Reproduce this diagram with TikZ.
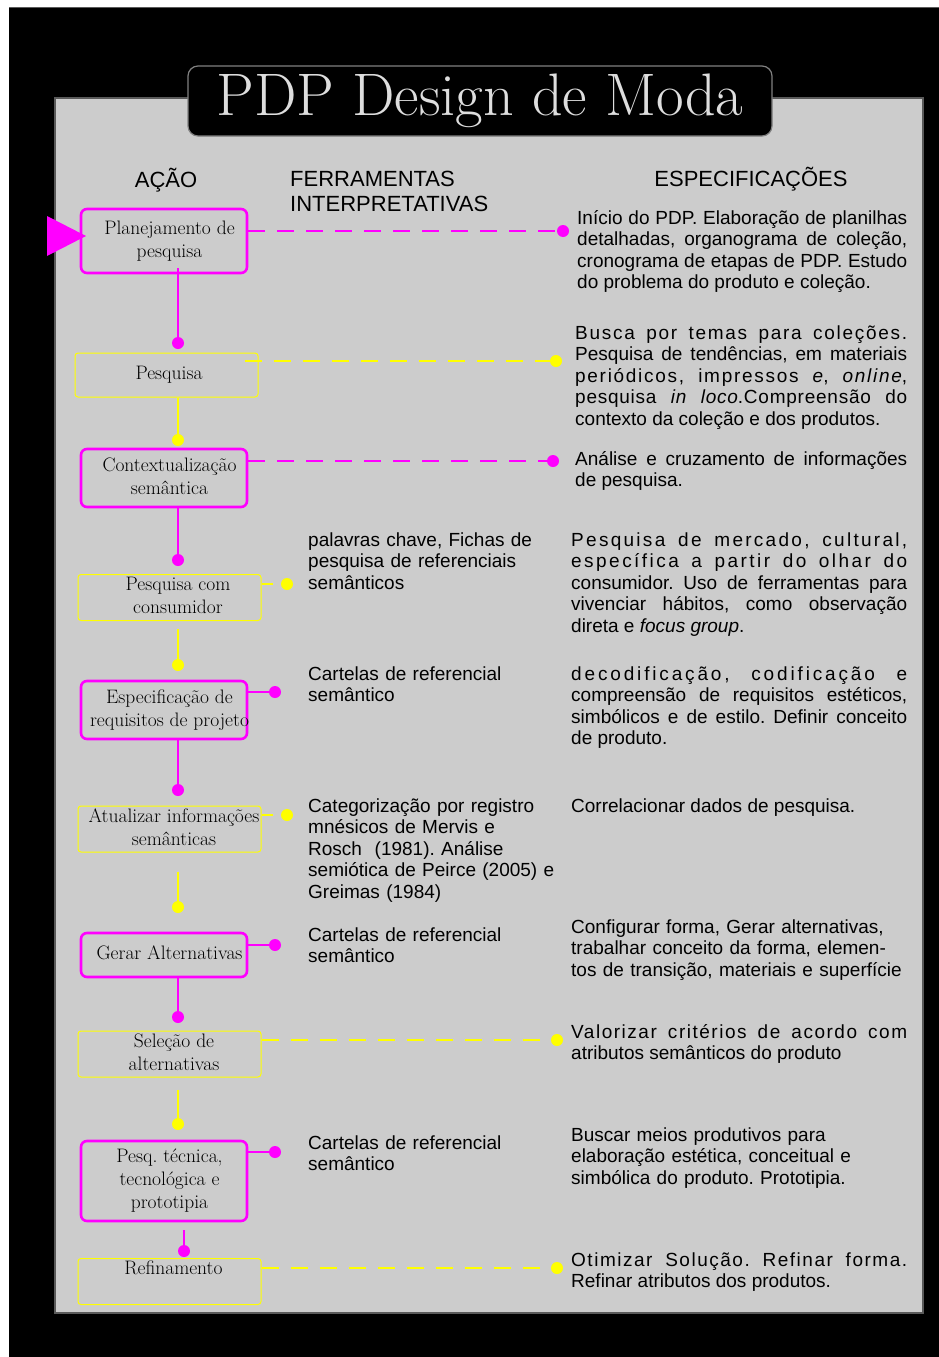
\documentclass[tikz,border=0pt]{standalone}
\usepackage{fontspec}
\usepackage{tikz}
\usetikzlibrary{positioning, arrows.meta}
\newfontfamily\arialfont{Liberation Sans}
\newfontfamily\titulofont{lmroman17-regular.otf}
\definecolor{rosa}{RGB}{255, 0, 255}
\definecolor{amarelo}{RGB}{255, 255, 0}
\definecolor{fundo}{RGB}{204, 204, 204}
\definecolor{contorno}{RGB}{90, 90, 90}
\definecolor{titulocor}{RGB}{222, 222, 222}
\newcommand{\espacado}[1]{\addfontfeature{LetterSpace=#1}}
\newcommand{\rotulo}[2]{\makebox[0pt]{\hspace*{#1}\begin{tabular}{@{}c@{}}#2\end{tabular}}}

\begin{document}
\frenchspacing
\begin{tikzpicture}[
    x=1pt, y=-1pt,
    acao/.style={draw=rosa, line width=2.6pt, rounded corners=6pt,
                 inner sep=0pt, font=\fontsize{19.5}{23}\selectfont},
    acaoy/.style={acao, draw=amarelo, line width=1pt, rounded corners=3pt},
    cabecalho/.style={inner sep=0pt, font=\arialfont\fontsize{22}{25}\selectfont},
    ferr/.style={anchor=base west, inner sep=0pt, text width=260pt, align=left,
                 font=\arialfont\fontsize{19}{21.6}\selectfont},
    espec/.style={ferr, text width=336pt, align=justify},
    ponto/.style={circle, fill=#1, minimum size=12pt, inner sep=0pt},
    liga/.style={draw=#1, line width=2.6pt},
    tracejado/.style={liga=#1, dash pattern=on 17pt off 12pt}
]

% --- Fundo e painel ---
\useasboundingbox[fill=white] (0,0) rectangle (939,1357);
\fill[black] (9,7) rectangle (939,1357);
\draw[contorno, line width=1pt] (9,7) -- (939,7);
\draw[fill=fundo, draw=contorno, line width=1.2pt] (55,98) rectangle (923,1313);

% --- Titulo ---
\node[fill=black, draw=gray, line width=1.2pt, rounded corners=10pt,
      minimum width=584pt, minimum height=70pt, inner sep=0pt,
      text=titulocor, font=\titulofont\fontsize{60}{60}\selectfont]
      (titulo) at (480,101) {PDP Design de Moda};

% ============================================================
%  CABECALHOS
% ============================================================
\node[cabecalho, anchor=base] (acao) at (166,187) {AÇÃO};
\node[cabecalho, anchor=base west, align=left] (ferramentas) at (290,211)
    {FERRAMENTAS\\INTERPRETATIVAS};
\node[cabecalho, anchor=base] (especificacoes) at (751,186) {ESPECIFICAÇÕES};

% ============================================================
%  ACOES (coluna da esquerda)
% ============================================================
\node[acao, minimum width=166pt, minimum height=64pt] (b1) at (164,241)
    {\rotulo{11pt}{Planejamento de\\pesquisa}};
\node[acaoy, minimum width=183pt, minimum height=44pt] (b2) at (166.5,375)
    {\rotulo{5pt}{Pesquisa}};
\node[acao, minimum width=166pt, minimum height=58pt] (b3) at (164,478)
    {\rotulo{11pt}{Contextualização\\semântica}};
\node[acaoy, minimum width=183pt, minimum height=45pt] (b4) at (169.5,597.5)
    {\rotulo{17pt}{Pesquisa com\\consumidor}};
\node[acao, minimum width=166pt, minimum height=58pt] (b5) at (164,710)
    {\rotulo{11pt}{Especificação de\\requisitos de projeto}};
\node[acaoy, minimum width=183pt, minimum height=44pt] (b6) at (169.5,829)
    {\rotulo{9pt}{Atualizar informações\\semânticas}};
\node[acao, minimum width=166pt, minimum height=44pt] (b7) at (164,955)
    {\rotulo{11pt}{Gerar Alternativas}};
\node[acaoy, minimum width=183pt, minimum height=44pt] (b8) at (169.5,1054)
    {\rotulo{9pt}{Seleção de\\alternativas}};
\node[acao, minimum width=166pt, minimum height=80pt] (b9) at (164,1181)
    {\rotulo{11pt}{Pesq. técnica,\\tecnológica e\\prototipia}};
\node[acaoy, minimum width=183pt, minimum height=45pt] (b10) at (169.5,1281.5)
    {\rotulo{8pt}{Refinamento\\ \mbox{}}};

% --- seta de entrada ---
\fill[rosa] (47,216) -- (86,236) -- (47,256) -- cycle;

% ============================================================
%  PONTOS
% ============================================================
\node[ponto=rosa]    (p1) at (178,343) {};
\node[ponto=amarelo] (p2) at (178,440) {};
\node[ponto=rosa]    (p3) at (178,560) {};
\node[ponto=amarelo] (p4) at (178,665) {};
\node[ponto=rosa]    (p5) at (178,790) {};
\node[ponto=amarelo] (p6) at (178,907) {};
\node[ponto=rosa]    (p7) at (178,1017) {};
\node[ponto=amarelo] (p8) at (178,1124) {};
\node[ponto=rosa]    (p9) at (184,1251) {};

\node[ponto=rosa]    (h1) at (563,231) {};
\node[ponto=amarelo] (h2) at (556,361) {};
\node[ponto=rosa]    (h3) at (553,461) {};
\node[ponto=amarelo] (h4) at (287,584) {};
\node[ponto=rosa]    (h5) at (275,692) {};
\node[ponto=amarelo] (h6) at (287,815) {};
\node[ponto=rosa]    (h7) at (275,945) {};
\node[ponto=amarelo] (h8) at (557,1040) {};
\node[ponto=rosa]    (h9) at (275,1152) {};
\node[ponto=amarelo] (h10) at (557,1268) {};

% ============================================================
%  LIGACOES
% ============================================================
\draw[liga=rosa, shorten <=-6pt] (b1.south -| p1) -- (p1);
\draw[liga=amarelo] (b2.south -| p2) -- (p2);
\draw[liga=rosa] (b3.south -| p3) -- (p3);
\draw[liga=amarelo, shorten <=8pt] (b4.south -| p4) -- (p4);
\draw[liga=rosa] (b5.south -| p5) -- (p5);
\draw[liga=amarelo, shorten <=19pt] (b6.south -| p6) -- (p6);
\draw[liga=rosa] (b7.south -| p7) -- (p7);
\draw[liga=amarelo, shorten <=12pt] (b8.south -| p8) -- (p8);
\draw[liga=rosa, shorten <=8pt] (b9.south -| p9) -- (p9);

\draw[tracejado=rosa] (h1 -| b1.east) -- (h1);
\draw[tracejado=amarelo, shorten <=-14pt] (h2 -| b2.east) -- (h2);
\draw[tracejado=rosa] (h3 -| b3.east) -- (h3);
\draw[liga=amarelo, shorten >=8pt] (h4 -| b4.east) -- (h4);
\draw[liga=rosa] (h5 -| b5.east) -- (h5);
\draw[liga=amarelo, shorten >=8pt] (h6 -| b6.east) -- (h6);
\draw[liga=rosa] (h7 -| b7.east) -- (h7);
\draw[tracejado=amarelo] (h8 -| b8.east) -- (h8);
\draw[liga=rosa] (h9 -| b9.east) -- (h9);
\draw[tracejado=amarelo] (h10 -| b10.east) -- (h10);

% ============================================================
%  FERRAMENTAS INTERPRETATIVAS
% ============================================================
\node[ferr] (f4) at (308,546)
    {palavras chave, Fichas de\\pesquisa de referenciais\\semânticos};
\node[ferr] (f5) at (308,680) {Cartelas de referencial\\semântico};
\node[ferr] (f6) at (308,812)
    {Categorização por registro\\mnésicos de Mervis e\\Rosch\ \ (1981). Análise\\semiótica de Peirce (2005) e\\Greimas (1984)};
\node[ferr] (f7) at (308,941) {Cartelas de referencial\\semântico};
\node[ferr] (f9) at (308,1149) {Cartelas de referencial\\semântico};

% ============================================================
%  ESPECIFICACOES
% ============================================================
\node[espec, text width=330pt] (e1) at (577,224)
    {Início do PDP. Elaboração de planilhas\linebreak
     detalhadas, organograma de coleção,\linebreak
     cronograma de etapas de PDP. Estudo\linebreak
     do problema do produto e coleção.};
\node[espec, text width=332pt] (e2) at (575,339)
    {{\espacado{9}Busca por temas para coleções.}\linebreak
     Pesquisa de tendências, em materiais\linebreak
     {\espacado{9}periódicos, impressos \textit{e}, \textit{online},}\linebreak
     {\espacado{4}pesquisa \textit{in loco}.Compreensão do}\linebreak
     contexto da coleção e dos produtos.};
\node[espec, text width=332pt] (e3) at (575,465)
    {Análise e cruzamento de informações\linebreak de pesquisa.};
\node[espec] (e4) at (571,546)
    {{\espacado{12}Pesquisa de mercado, cultural,}\linebreak
     {\espacado{13}específica a partir do olhar do}\linebreak
     consumidor. Uso de ferramentas para\linebreak
     vivenciar hábitos, como observação\linebreak
     direta e \textit{focus group}.};
\node[espec] (e5) at (571,680)
    {{\espacado{15}decodificação, codificação e}\linebreak
     compreensão de requisitos estéticos,\linebreak
     simbólicos e de estilo. Definir conceito\linebreak
     de produto.};
\node[espec] (e6) at (571,812) {Correlacionar dados de pesquisa.};
\node[ferr, text width=340pt] (e7) at (571,933)
    {Configurar forma, Gerar alternativas,\\trabalhar conceito da forma, elemen-\\tos de transição, materiais e superfície};
\node[espec] (e8) at (571,1038)
    {{\espacado{8}Valorizar critérios de acordo com}\linebreak
     atributos semânticos do produto};
\node[ferr, text width=340pt] (e9) at (571,1141)
    {Buscar meios produtivos para\\elaboração estética, conceitual e\\simbólica do produto. Prototipia.};
\node[espec] (e10) at (571,1266)
    {{\espacado{8}Otimizar Solução. Refinar forma.}\linebreak
     Refinar atributos dos produtos.};

\end{tikzpicture}
\end{document}
